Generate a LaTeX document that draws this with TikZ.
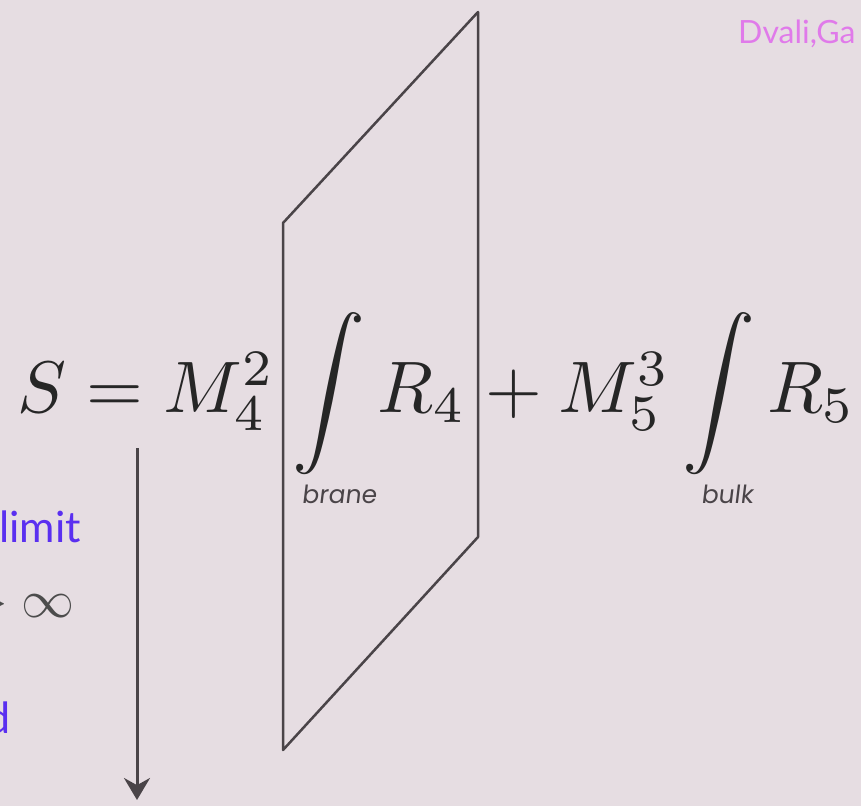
\documentclass[tikz,border=0pt]{standalone}
\usepackage{fontspec}
\usepackage{tikz}
\usetikzlibrary{arrows.meta}
\newfontfamily\slidefont{Lato}
\newfontfamily\limfont[FakeSlant=0.12]{Poppins}
\definecolor{slidebg}{HTML}{E6DDE2}
\definecolor{branegray}{HTML}{4A4448}
\definecolor{limitblue}{HTML}{5A2FF0}
\definecolor{citepink}{HTML}{E07AEA}

\begin{document}
\begin{tikzpicture}[
  x=1pt, y=-1pt,
  eq/.style={inner sep=0pt, anchor=base west, text=black!85, scale=7.3, transform shape},
  limtag/.style={inner sep=0pt, anchor=base, text=branegray, font=\limfont\fontsize{25}{28}\selectfont},
  note/.style={inner sep=0pt, anchor=base west, text=limitblue, font=\slidefont\fontsize{43}{48}\selectfont},
  brane/.style={draw=branegray, line width=2.5pt, line join=round},
  fall/.style={draw=branegray, line width=3pt, -{Stealth[length=22pt, width=26pt]}}
]
\fill[slidebg] (0,0) rectangle (861,806);
\useasboundingbox (0,0) rectangle (861,806);

\coordinate (tl) at (283,223);
\coordinate (tr) at (478,12);
\coordinate (br) at (478,537);
\coordinate (bl) at (283,750);
\draw[brane] (tl) -- (tr) -- (br) -- (bl) -- cycle;

\node[eq] (eqlhs) at (16,412) {$S = M_4^2$};
\node[eq] (eqbrane) at (291,412) {$\displaystyle\int R_4$};
\node[eq] (eqbulk) at (468,412) {${}+M_5^3\displaystyle\int R_5$};
\node[limtag] (branelbl) at (339,503) {brane};
\node[limtag] (bulklbl) at (727,503) {bulk};

\node[note] (limitnote) at (-1,542) {limit};
\node[eq, anchor=base east, text=black!70, scale=5.3/7.3] (infnote) at (76,617) {$\to\infty$};
\node[note, anchor=base east] (dnote) at (11,733) {d};
\node[note, text=citepink, font=\slidefont\fontsize{32}{36}\selectfont] (cite) at (738,43) {Dvali,Ga};

\coordinate (fallstart) at (137,448);
\coordinate (fallend) at (137,800);
\draw[fall] (fallstart) -- (fallend);
\end{tikzpicture}
\end{document}
